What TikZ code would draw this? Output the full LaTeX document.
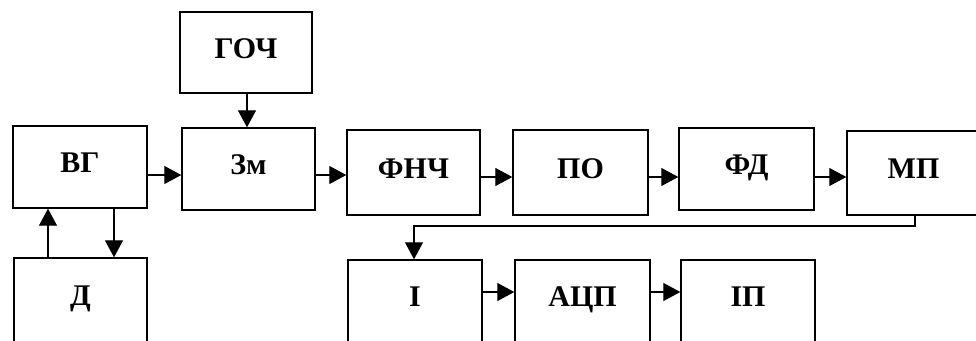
\documentclass[tikz,border=0pt]{standalone}
\usepackage{fontspec}
\setmainfont{Liberation Serif}
\usetikzlibrary{arrows.meta}
\begin{document}
\begin{tikzpicture}[x=1pt,y=-1pt,
  blk/.style={draw, line width=1.4pt, inner sep=0pt,
    font=\bfseries\fontsize{30}{32}\selectfont,
    text height=20pt, text depth=9pt},
  arr/.style={line width=1.2pt, -{Triangle[length=17pt,width=18pt]}},
  ln/.style={line width=1.2pt}]
\useasboundingbox (0,0) rectangle (976,340);
\clip (0,0) rectangle (976,340);
% boxes
\node[blk, minimum width=132pt, minimum height=81pt] (goch) at (246,52.5) {ГОЧ};
\node[blk, minimum width=133pt, minimum height=82pt] (zm) at (248.5,169) {Зм};
\node[blk, minimum width=134pt, minimum height=82pt] (vg) at (80,167) {ВГ};
\node[blk, minimum width=133pt, minimum height=84pt] (d) at (80.5,300) {Д};
\node[blk, minimum width=133pt, minimum height=85pt] (fnch) at (413.5,172.5) {ФНЧ};
\node[blk, minimum width=135pt, minimum height=85pt] (po) at (580.5,172.5) {ПО};
\node[blk, minimum width=135pt, minimum height=82pt] (fd) at (746.5,169) {ФД};
\node[blk, minimum width=133pt, minimum height=84pt] (mp) at (913.5,173) {МП};
\node[blk, minimum width=134pt, minimum height=82pt] (i) at (415,301) {І};
\node[blk, minimum width=135pt, minimum height=82pt] (adc) at (582.5,301) {АЦП};
\node[blk, minimum width=134pt, minimum height=82pt] (ip) at (748,301) {ІП};
% helper coordinates
\coordinate (r1) at (0,175);
\coordinate (r2) at (0,177);
\coordinate (r3) at (0,292);
\coordinate (xg) at (247,0);
\coordinate (xd1) at (48,0);
\coordinate (xd2) at (114,0);
\coordinate (xm) at (915,0);
\coordinate (xi) at (414,0);
\coordinate (c1) at (915,226);
\coordinate (c2) at (414,226);
% connectors
\draw[arr] (goch.south -| xg) -- (zm.north -| xg);
\draw[arr] (vg.east |- r1) -- (zm.west |- r1);
\draw[arr] (zm.east |- r1) -- (fnch.west |- r1);
\draw[arr] (fnch.east |- r2) -- (po.west |- r2);
\draw[arr] (po.east |- r2) -- (fd.west |- r2);
\draw[arr] (fd.east |- r2) -- (mp.west |- r2);
\draw[arr] (d.north -| xd1) -- (vg.south -| xd1);
\draw[arr] (vg.south -| xd2) -- (d.north -| xd2);
\draw[arr] (mp.south -| xm) -- (c1) -- (c2) -- (i.north -| xi);
\draw[arr] (i.east |- r3) -- (adc.west |- r3);
\draw[arr] (adc.east |- r3) -- (ip.west |- r3);
\end{tikzpicture}
\end{document}
